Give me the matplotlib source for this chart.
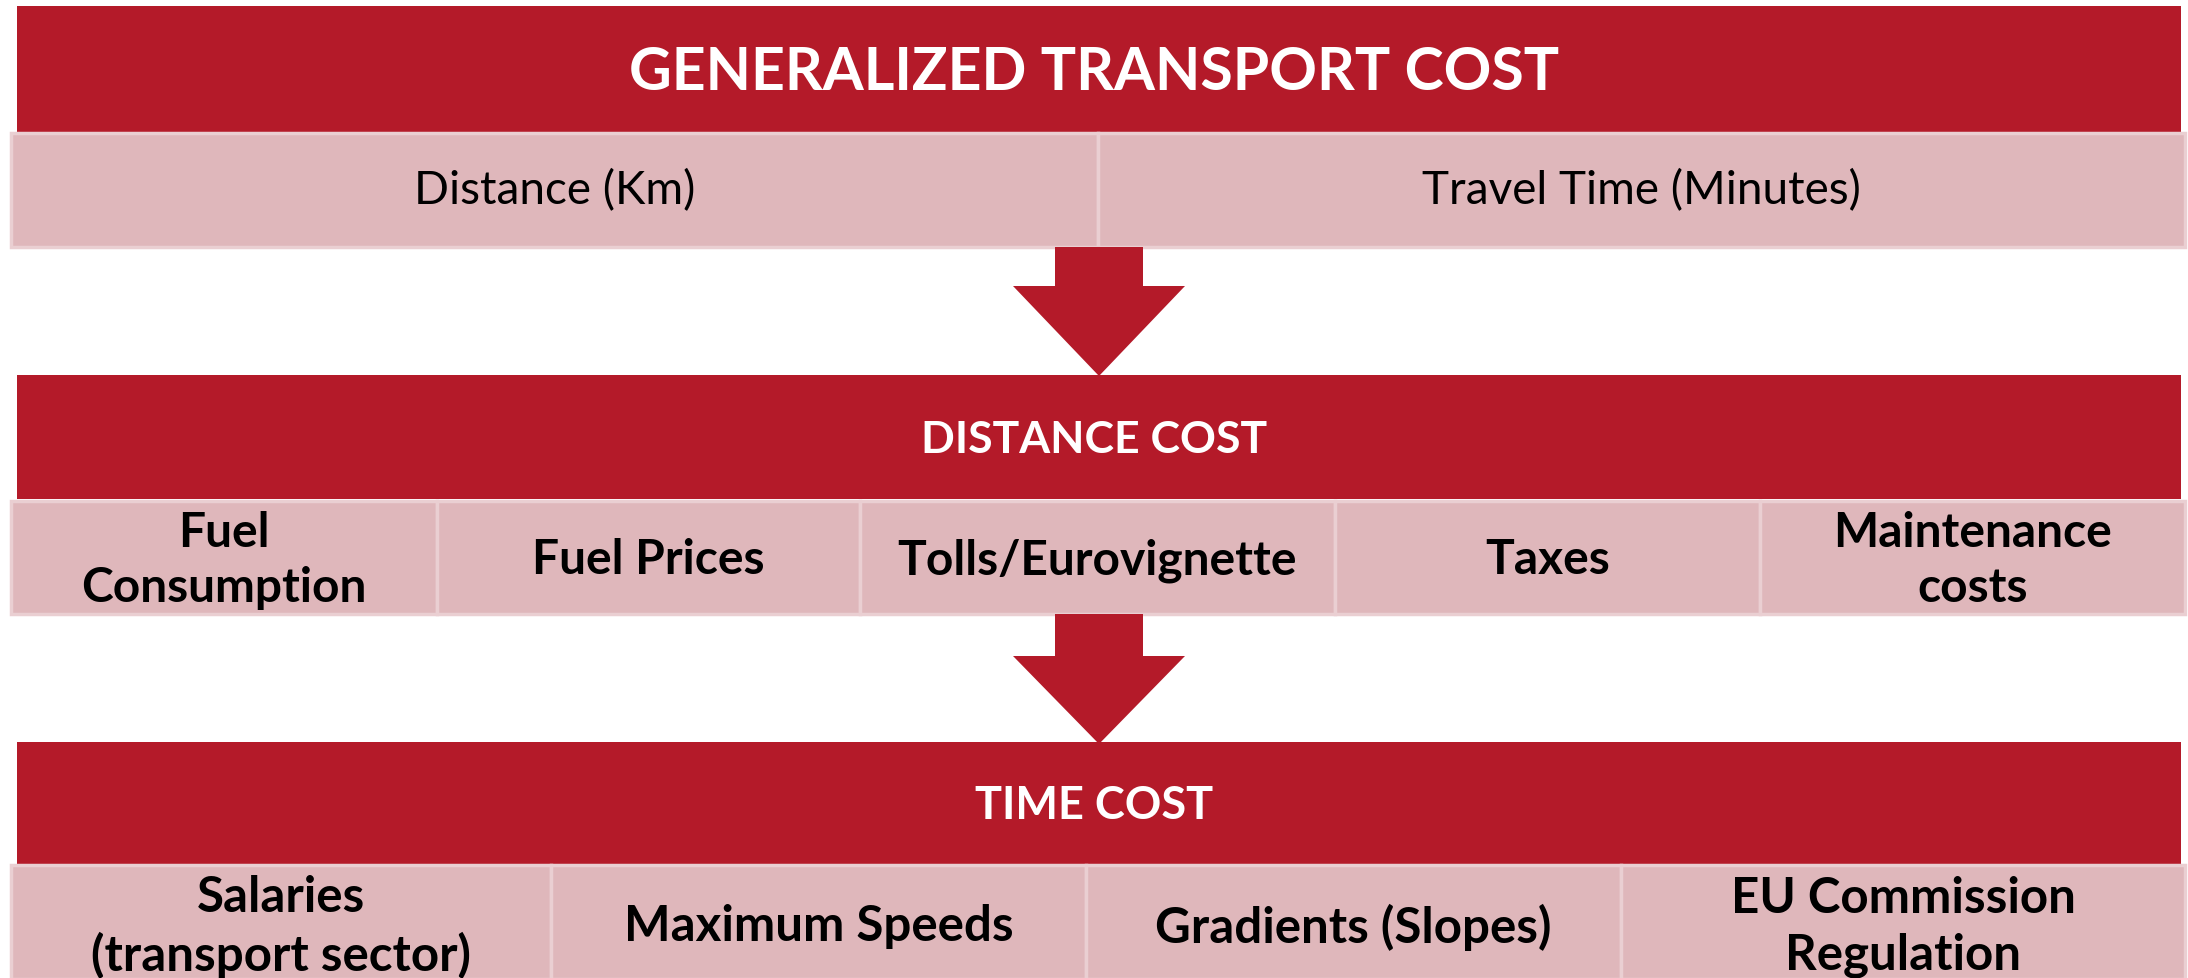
import matplotlib.pyplot as plt
from matplotlib.patches import Rectangle, Polygon

plt.rcParams['font.family'] = ['Lato', 'DejaVu Sans']

# Textos del diagrama
titulo = "GENERALIZED TRANSPORT COST"
fila_1 = ["Distance (Km)", "Travel Time (Minutes)"]
titulo_distancia = "DISTANCE COST"
fila_distancia = ["Fuel\nConsumption", "Fuel Prices", "Tolls/Eurovignette", "Taxes", "Maintenance\ncosts"]
titulo_tiempo = "TIME COST"
fila_tiempo = ["Salaries\n(transport sector)", "Maximum Speeds", "Gradients (Slopes)", "EU Commission\nRegulation"]

# bordes de las celdas (px)
cortes_1 = [11, 1098, 2185]
cortes_distancia = [11, 437, 860, 1335, 1760, 2185]
cortes_tiempo = [11, 551, 1086, 1621, 2185]

ROJO = '#B41A29'
ROSA = '#DFB7BB'
BORDE = '#EACFD2'

W, H = 2188, 979
fig = plt.figure(figsize=(W / 100, H / 100), dpi=100)
ax = fig.add_axes([0, 0, 1, 1])
ax.set_xlim(0, W)
ax.set_ylim(H, 0)
ax.axis('off')


def banda(y0, y1, texto, size):
    ax.add_patch(Rectangle((17, y0), 2164, y1 - y0, facecolor=ROJO, edgecolor='none'))
    ax.text(W / 2, (y0 + y1) / 2 + 2, texto, color='white', fontsize=size,
            fontweight='bold', ha='center', va='center')


def fila(y0, y1, cortes, textos, size, peso, dy=2):
    for i, t in enumerate(textos):
        x0, x1 = cortes[i], cortes[i + 1]
        ax.add_patch(Rectangle((x0, y0), x1 - x0, y1 - y0, facecolor=ROSA,
                               edgecolor=BORDE, linewidth=2.5))
        ax.text((x0 + x1) / 2, (y0 + y1) / 2 + dy, t, color='black', fontsize=size,
                fontweight=peso, ha='center', va='center', linespacing=1.3)


def flecha(y0, y1, y2):
    cx = 1099
    pts = [(cx - 44, y0), (cx + 44, y0), (cx + 44, y1), (cx + 86, y1),
           (cx, y2), (cx - 86, y1), (cx - 44, y1)]
    ax.add_patch(Polygon(pts, closed=True, facecolor=ROJO, edgecolor='none'))


banda(7, 134, titulo, 42.5)
fila(134, 248, cortes_1, fila_1, 33, 'normal', dy=0)
flecha(248, 287, 377)
banda(376, 500, titulo_distancia, 32)
fila(502, 615, cortes_distancia, fila_distancia, 34.5, 'bold')
flecha(615, 657, 745)
banda(743, 865, titulo_tiempo, 32.5)
fila(866, 980, cortes_tiempo, fila_tiempo, 35.5, 'bold', dy=4)

fig.savefig('out.png', dpi=100)
